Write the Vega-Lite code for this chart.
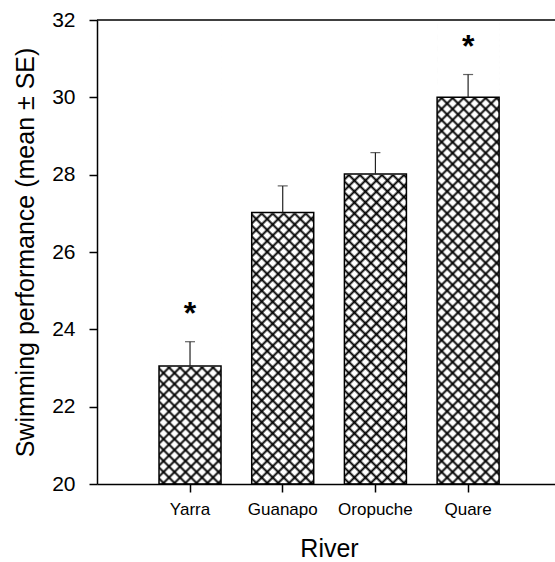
{
  "$schema": "https://vega.github.io/schema/vega-lite/v6.json",
  "width": 458,
  "height": 464,
  "autosize": "none",
  "padding": {"left": 97, "top": 20, "right": 0, "bottom": 78},
  "background": "white",
  "config": {
    "view": {"stroke": null},
    "font": "Liberation Sans",
    "axis": {"domainColor": "black", "domainWidth": 1.5, "tickColor": "black", "tickWidth": 1.5, "tickSize": 8, "labelColor": "black", "titleColor": "black", "grid": false, "titleFontWeight": "normal", "labelFont": "Liberation Sans", "titleFont": "Liberation Sans"}
  },
  "data": {
    "values": [
      {"river": "Yarra", "mean": 23.05, "upper": 23.68, "sig": "*"},
      {"river": "Guanapo", "mean": 27.02, "upper": 27.71, "sig": ""},
      {"river": "Oropuche", "mean": 28.02, "upper": 28.57, "sig": ""},
      {"river": "Quare", "mean": 30.0, "upper": 30.59, "sig": "*"}
    ]
  },
  "layer": [
    {
      "mark": {"type": "bar", "fill": {"gradient": "linear", "x1": 0, "y1": 0, "x2": 0.15561, "y2": 1.16457, "stops": [
        {"offset":0.005,"color":"transparent"},{"offset":0.01,"color":"black"},{"offset":0.015,"color":"transparent"},
        {"offset":0.025,"color":"transparent"},{"offset":0.03,"color":"black"},{"offset":0.035,"color":"transparent"},
        {"offset":0.045,"color":"transparent"},{"offset":0.05,"color":"black"},{"offset":0.055,"color":"transparent"},
        {"offset":0.065,"color":"transparent"},{"offset":0.07,"color":"black"},{"offset":0.075,"color":"transparent"},
        {"offset":0.085,"color":"transparent"},{"offset":0.09,"color":"black"},{"offset":0.095,"color":"transparent"},
        {"offset":0.105,"color":"transparent"},{"offset":0.11,"color":"black"},{"offset":0.115,"color":"transparent"},
        {"offset":0.125,"color":"transparent"},{"offset":0.13,"color":"black"},{"offset":0.135,"color":"transparent"},
        {"offset":0.145,"color":"transparent"},{"offset":0.15,"color":"black"},{"offset":0.155,"color":"transparent"},
        {"offset":0.165,"color":"transparent"},{"offset":0.17,"color":"black"},{"offset":0.175,"color":"transparent"},
        {"offset":0.185,"color":"transparent"},{"offset":0.19,"color":"black"},{"offset":0.195,"color":"transparent"},
        {"offset":0.205,"color":"transparent"},{"offset":0.21,"color":"black"},{"offset":0.215,"color":"transparent"},
        {"offset":0.225,"color":"transparent"},{"offset":0.23,"color":"black"},{"offset":0.235,"color":"transparent"},
        {"offset":0.245,"color":"transparent"},{"offset":0.25,"color":"black"},{"offset":0.255,"color":"transparent"},
        {"offset":0.265,"color":"transparent"},{"offset":0.27,"color":"black"},{"offset":0.275,"color":"transparent"},
        {"offset":0.285,"color":"transparent"},{"offset":0.29,"color":"black"},{"offset":0.295,"color":"transparent"},
        {"offset":0.305,"color":"transparent"},{"offset":0.31,"color":"black"},{"offset":0.315,"color":"transparent"},
        {"offset":0.325,"color":"transparent"},{"offset":0.33,"color":"black"},{"offset":0.335,"color":"transparent"},
        {"offset":0.345,"color":"transparent"},{"offset":0.35,"color":"black"},{"offset":0.355,"color":"transparent"},
        {"offset":0.365,"color":"transparent"},{"offset":0.37,"color":"black"},{"offset":0.375,"color":"transparent"},
        {"offset":0.385,"color":"transparent"},{"offset":0.39,"color":"black"},{"offset":0.395,"color":"transparent"},
        {"offset":0.405,"color":"transparent"},{"offset":0.41,"color":"black"},{"offset":0.415,"color":"transparent"},
        {"offset":0.425,"color":"transparent"},{"offset":0.43,"color":"black"},{"offset":0.435,"color":"transparent"},
        {"offset":0.445,"color":"transparent"},{"offset":0.45,"color":"black"},{"offset":0.455,"color":"transparent"},
        {"offset":0.465,"color":"transparent"},{"offset":0.47,"color":"black"},{"offset":0.475,"color":"transparent"},
        {"offset":0.485,"color":"transparent"},{"offset":0.49,"color":"black"},{"offset":0.495,"color":"transparent"},
        {"offset":0.505,"color":"transparent"},{"offset":0.51,"color":"black"},{"offset":0.515,"color":"transparent"},
        {"offset":0.525,"color":"transparent"},{"offset":0.53,"color":"black"},{"offset":0.535,"color":"transparent"},
        {"offset":0.545,"color":"transparent"},{"offset":0.55,"color":"black"},{"offset":0.555,"color":"transparent"},
        {"offset":0.565,"color":"transparent"},{"offset":0.57,"color":"black"},{"offset":0.575,"color":"transparent"},
        {"offset":0.585,"color":"transparent"},{"offset":0.59,"color":"black"},{"offset":0.595,"color":"transparent"},
        {"offset":0.605,"color":"transparent"},{"offset":0.61,"color":"black"},{"offset":0.615,"color":"transparent"},
        {"offset":0.625,"color":"transparent"},{"offset":0.63,"color":"black"},{"offset":0.635,"color":"transparent"},
        {"offset":0.645,"color":"transparent"},{"offset":0.65,"color":"black"},{"offset":0.655,"color":"transparent"},
        {"offset":0.665,"color":"transparent"},{"offset":0.67,"color":"black"},{"offset":0.675,"color":"transparent"},
        {"offset":0.685,"color":"transparent"},{"offset":0.69,"color":"black"},{"offset":0.695,"color":"transparent"},
        {"offset":0.705,"color":"transparent"},{"offset":0.71,"color":"black"},{"offset":0.715,"color":"transparent"},
        {"offset":0.725,"color":"transparent"},{"offset":0.73,"color":"black"},{"offset":0.735,"color":"transparent"},
        {"offset":0.745,"color":"transparent"},{"offset":0.75,"color":"black"},{"offset":0.755,"color":"transparent"},
        {"offset":0.765,"color":"transparent"},{"offset":0.77,"color":"black"},{"offset":0.775,"color":"transparent"},
        {"offset":0.785,"color":"transparent"},{"offset":0.79,"color":"black"},{"offset":0.795,"color":"transparent"},
        {"offset":0.805,"color":"transparent"},{"offset":0.81,"color":"black"},{"offset":0.815,"color":"transparent"},
        {"offset":0.825,"color":"transparent"},{"offset":0.83,"color":"black"},{"offset":0.835,"color":"transparent"},
        {"offset":0.845,"color":"transparent"},{"offset":0.85,"color":"black"},{"offset":0.855,"color":"transparent"},
        {"offset":0.865,"color":"transparent"},{"offset":0.87,"color":"black"},{"offset":0.875,"color":"transparent"},
        {"offset":0.885,"color":"transparent"},{"offset":0.89,"color":"black"},{"offset":0.895,"color":"transparent"},
        {"offset":0.905,"color":"transparent"},{"offset":0.91,"color":"black"},{"offset":0.915,"color":"transparent"},
        {"offset":0.925,"color":"transparent"},{"offset":0.93,"color":"black"},{"offset":0.935,"color":"transparent"},
        {"offset":0.945,"color":"transparent"},{"offset":0.95,"color":"black"},{"offset":0.955,"color":"transparent"},
        {"offset":0.965,"color":"transparent"},{"offset":0.97,"color":"black"},{"offset":0.975,"color":"transparent"},
        {"offset":0.985,"color":"transparent"},{"offset":0.99,"color":"black"},{"offset":0.995,"color":"transparent"}
      ]}},
      "encoding": {
        "x": {
          "field": "river", "type": "nominal", "sort": null,
          "scale": {"paddingInner": 0.331, "paddingOuter": 0.636, "align": 0.526},
          "axis": {"title": "River", "labelAngle": 0, "labelFontSize": 17, "labelPadding": 9, "titleFontSize": 25, "titleX": 232, "titleY": 72, "titleBaseline": "alphabetic", "titleAnchor": "middle"}
        },
        "y": {"datum": 20, "type": "quantitative", "scale": {"domain": [20, 32], "nice": false, "zero": false},
          "axis": {"values": [20, 22, 24, 26, 28, 30, 32], "title": "Swimming performance (mean ± SE)", "labelFontSize": 21, "labelPadding": 14, "titleFontSize": 25, "titleX": -64, "titleBaseline": "alphabetic"}},
        "y2": {"datum": 32}
      }
    },
    {
      "mark": {"type": "bar", "fill": {"gradient": "linear", "x1": 0, "y1": 1, "x2": 0.15561, "y2": -0.16457, "stops": [
        {"offset":0.005,"color":"transparent"},{"offset":0.01,"color":"black"},{"offset":0.015,"color":"transparent"},
        {"offset":0.025,"color":"transparent"},{"offset":0.03,"color":"black"},{"offset":0.035,"color":"transparent"},
        {"offset":0.045,"color":"transparent"},{"offset":0.05,"color":"black"},{"offset":0.055,"color":"transparent"},
        {"offset":0.065,"color":"transparent"},{"offset":0.07,"color":"black"},{"offset":0.075,"color":"transparent"},
        {"offset":0.085,"color":"transparent"},{"offset":0.09,"color":"black"},{"offset":0.095,"color":"transparent"},
        {"offset":0.105,"color":"transparent"},{"offset":0.11,"color":"black"},{"offset":0.115,"color":"transparent"},
        {"offset":0.125,"color":"transparent"},{"offset":0.13,"color":"black"},{"offset":0.135,"color":"transparent"},
        {"offset":0.145,"color":"transparent"},{"offset":0.15,"color":"black"},{"offset":0.155,"color":"transparent"},
        {"offset":0.165,"color":"transparent"},{"offset":0.17,"color":"black"},{"offset":0.175,"color":"transparent"},
        {"offset":0.185,"color":"transparent"},{"offset":0.19,"color":"black"},{"offset":0.195,"color":"transparent"},
        {"offset":0.205,"color":"transparent"},{"offset":0.21,"color":"black"},{"offset":0.215,"color":"transparent"},
        {"offset":0.225,"color":"transparent"},{"offset":0.23,"color":"black"},{"offset":0.235,"color":"transparent"},
        {"offset":0.245,"color":"transparent"},{"offset":0.25,"color":"black"},{"offset":0.255,"color":"transparent"},
        {"offset":0.265,"color":"transparent"},{"offset":0.27,"color":"black"},{"offset":0.275,"color":"transparent"},
        {"offset":0.285,"color":"transparent"},{"offset":0.29,"color":"black"},{"offset":0.295,"color":"transparent"},
        {"offset":0.305,"color":"transparent"},{"offset":0.31,"color":"black"},{"offset":0.315,"color":"transparent"},
        {"offset":0.325,"color":"transparent"},{"offset":0.33,"color":"black"},{"offset":0.335,"color":"transparent"},
        {"offset":0.345,"color":"transparent"},{"offset":0.35,"color":"black"},{"offset":0.355,"color":"transparent"},
        {"offset":0.365,"color":"transparent"},{"offset":0.37,"color":"black"},{"offset":0.375,"color":"transparent"},
        {"offset":0.385,"color":"transparent"},{"offset":0.39,"color":"black"},{"offset":0.395,"color":"transparent"},
        {"offset":0.405,"color":"transparent"},{"offset":0.41,"color":"black"},{"offset":0.415,"color":"transparent"},
        {"offset":0.425,"color":"transparent"},{"offset":0.43,"color":"black"},{"offset":0.435,"color":"transparent"},
        {"offset":0.445,"color":"transparent"},{"offset":0.45,"color":"black"},{"offset":0.455,"color":"transparent"},
        {"offset":0.465,"color":"transparent"},{"offset":0.47,"color":"black"},{"offset":0.475,"color":"transparent"},
        {"offset":0.485,"color":"transparent"},{"offset":0.49,"color":"black"},{"offset":0.495,"color":"transparent"},
        {"offset":0.505,"color":"transparent"},{"offset":0.51,"color":"black"},{"offset":0.515,"color":"transparent"},
        {"offset":0.525,"color":"transparent"},{"offset":0.53,"color":"black"},{"offset":0.535,"color":"transparent"},
        {"offset":0.545,"color":"transparent"},{"offset":0.55,"color":"black"},{"offset":0.555,"color":"transparent"},
        {"offset":0.565,"color":"transparent"},{"offset":0.57,"color":"black"},{"offset":0.575,"color":"transparent"},
        {"offset":0.585,"color":"transparent"},{"offset":0.59,"color":"black"},{"offset":0.595,"color":"transparent"},
        {"offset":0.605,"color":"transparent"},{"offset":0.61,"color":"black"},{"offset":0.615,"color":"transparent"},
        {"offset":0.625,"color":"transparent"},{"offset":0.63,"color":"black"},{"offset":0.635,"color":"transparent"},
        {"offset":0.645,"color":"transparent"},{"offset":0.65,"color":"black"},{"offset":0.655,"color":"transparent"},
        {"offset":0.665,"color":"transparent"},{"offset":0.67,"color":"black"},{"offset":0.675,"color":"transparent"},
        {"offset":0.685,"color":"transparent"},{"offset":0.69,"color":"black"},{"offset":0.695,"color":"transparent"},
        {"offset":0.705,"color":"transparent"},{"offset":0.71,"color":"black"},{"offset":0.715,"color":"transparent"},
        {"offset":0.725,"color":"transparent"},{"offset":0.73,"color":"black"},{"offset":0.735,"color":"transparent"},
        {"offset":0.745,"color":"transparent"},{"offset":0.75,"color":"black"},{"offset":0.755,"color":"transparent"},
        {"offset":0.765,"color":"transparent"},{"offset":0.77,"color":"black"},{"offset":0.775,"color":"transparent"},
        {"offset":0.785,"color":"transparent"},{"offset":0.79,"color":"black"},{"offset":0.795,"color":"transparent"},
        {"offset":0.805,"color":"transparent"},{"offset":0.81,"color":"black"},{"offset":0.815,"color":"transparent"},
        {"offset":0.825,"color":"transparent"},{"offset":0.83,"color":"black"},{"offset":0.835,"color":"transparent"},
        {"offset":0.845,"color":"transparent"},{"offset":0.85,"color":"black"},{"offset":0.855,"color":"transparent"},
        {"offset":0.865,"color":"transparent"},{"offset":0.87,"color":"black"},{"offset":0.875,"color":"transparent"},
        {"offset":0.885,"color":"transparent"},{"offset":0.89,"color":"black"},{"offset":0.895,"color":"transparent"},
        {"offset":0.905,"color":"transparent"},{"offset":0.91,"color":"black"},{"offset":0.915,"color":"transparent"},
        {"offset":0.925,"color":"transparent"},{"offset":0.93,"color":"black"},{"offset":0.935,"color":"transparent"},
        {"offset":0.945,"color":"transparent"},{"offset":0.95,"color":"black"},{"offset":0.955,"color":"transparent"},
        {"offset":0.965,"color":"transparent"},{"offset":0.97,"color":"black"},{"offset":0.975,"color":"transparent"},
        {"offset":0.985,"color":"transparent"},{"offset":0.99,"color":"black"},{"offset":0.995,"color":"transparent"}
      ]}},
      "encoding": {
        "x": {"field": "river", "type": "nominal", "sort": null},
        "y": {"datum": 20, "type": "quantitative"},
        "y2": {"datum": 32}
      }
    },
    {
      "mark": {"type": "bar", "fill": "white", "stroke": "white", "strokeWidth": 1.5},
      "encoding": {
        "x": {"field": "river", "type": "nominal", "sort": null},
        "y": {"field": "mean", "type": "quantitative"},
        "y2": {"datum": 32}
      }
    },
    {
      "mark": {"type": "bar", "fill": "white", "fillOpacity": 0, "stroke": "black", "strokeWidth": 1.5},
      "encoding": {
        "x": {"field": "river", "type": "nominal", "sort": null},
        "y": {"field": "mean", "type": "quantitative"},
        "y2": {"datum": 20}
      }
    },
    {
      "data": {"values": [{"top": 32}]},
      "mark": {"type": "rule", "color": "black", "strokeWidth": 1.5},
      "encoding": {"y": {"field": "top", "type": "quantitative"}}
    },
    {
      "mark": {"type": "rule", "color": "#222222", "strokeWidth": 1.2},
      "encoding": {
        "x": {"field": "river", "type": "nominal", "sort": null},
        "y": {"field": "mean", "type": "quantitative"},
        "y2": {"field": "upper"}
      }
    },
    {
      "mark": {"type": "tick", "color": "#222222", "size": 10, "thickness": 1.2},
      "encoding": {
        "x": {"field": "river", "type": "nominal", "sort": null},
        "y": {"field": "upper", "type": "quantitative"}
      }
    },
    {
      "mark": {"type": "text", "fontSize": 32, "fontWeight": "bold", "color": "black", "baseline": "alphabetic", "dy": -18},
      "encoding": {
        "x": {"field": "river", "type": "nominal", "sort": null},
        "y": {"field": "upper", "type": "quantitative"},
        "text": {"field": "sig"}
      }
    }
  ]
}
